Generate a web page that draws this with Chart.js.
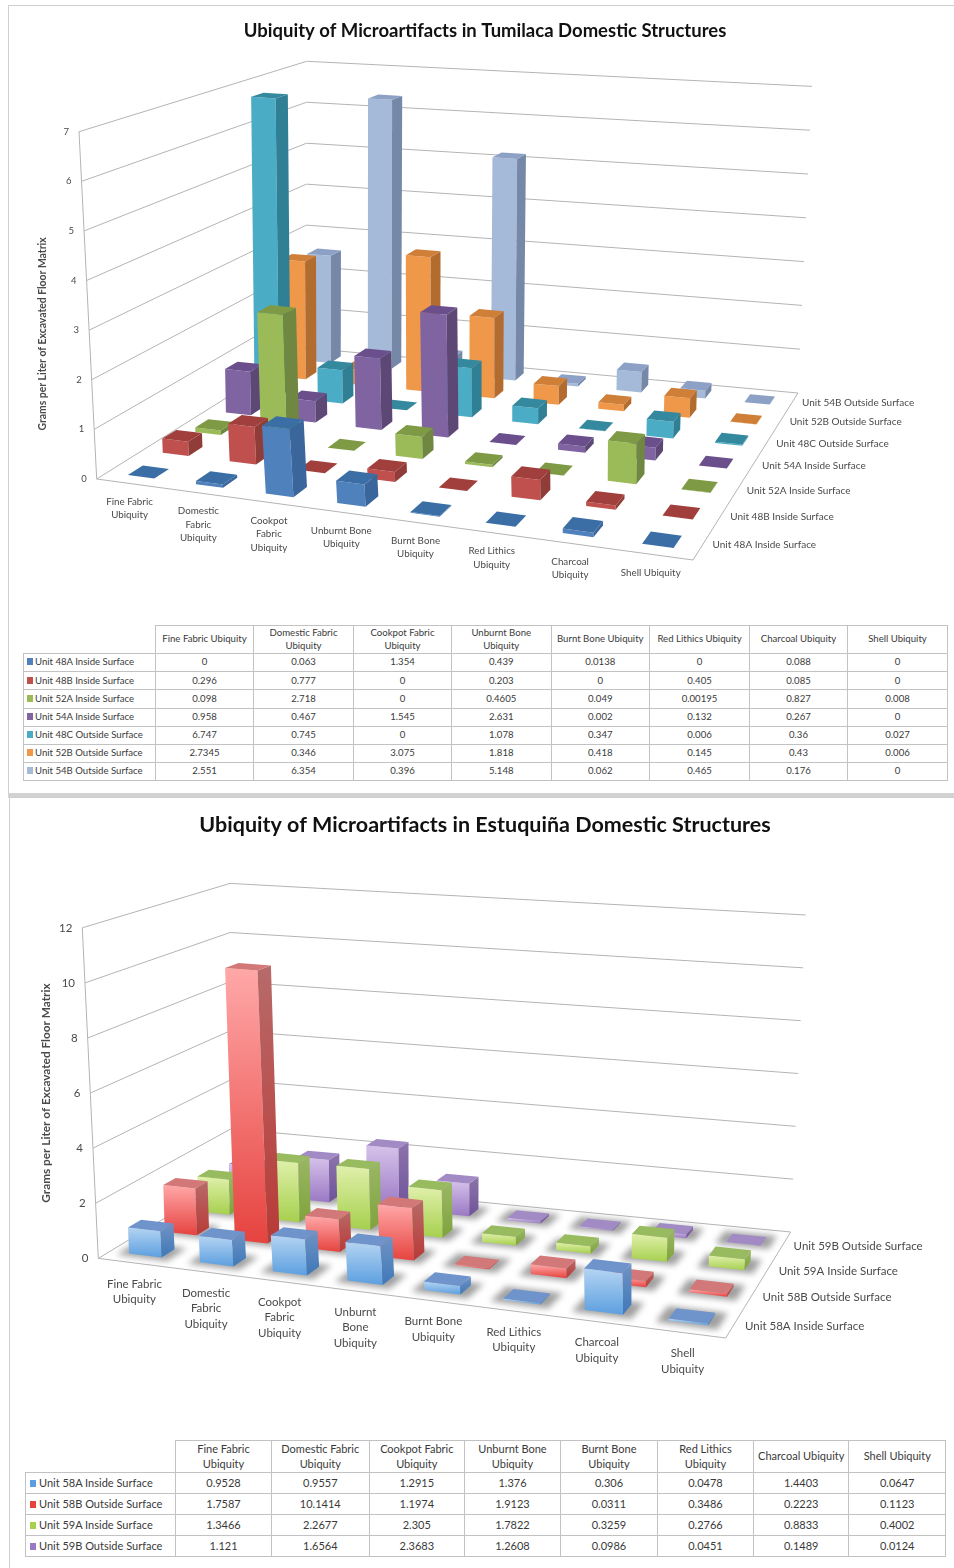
<!DOCTYPE html>
<html lang="en">
<head>
    <meta charset="UTF-8">
    <title>Ubiquity of Microartifacts</title>
    <style>
        body {
            margin: 0;
            width: 954px;
            height: 1568px;
            position: relative;
            overflow: hidden;
            background: #fff;
            font-family: Lato, sans-serif;
        }

        .panel {
            position: absolute;
            box-sizing: border-box;
            background: #fff;
            border: 1px solid #cfcfcf;
        }

        #panelTop { left: 8px; top: 5px; width: 960px; height: 789px; }
        #panelBottom { left: 9px; top: 797px; width: 960px; height: 800px; }
        #stripe { position: absolute; left: 8px; top: 793px; width: 946px; height: 5px; background: #d2d2d2; }

        canvas { position: absolute; left: 0; }
        #tumilacaChart { top: 0; }
        #estuquinaChart { top: 800px; }

        table {
            position: absolute;
            border-collapse: collapse;
            table-layout: fixed;
            color: #3a3a3a;
            text-align: center;
        }

        td, th {
            border: 1.5px solid #c2c2c2;
            padding: 0;
            font-weight: normal;
            white-space: pre-line;
            line-height: 1.3;
        }

        th.blank { border-top: none; border-left: none; }
        td.name { text-align: left; padding-left: 3px; white-space: nowrap; }
        .swatch { display: inline-block; width: 6px; height: 7px; margin-right: 2px; }

        #tumilacaTable { left: 23px; top: 625px; font-size: 9.6px; }
        #estuquinaTable { left: 25px; top: 1440px; font-size: 11px; }
        #estuquinaTable td.name { padding-left: 4px; }
        #estuquinaTable .swatch { margin-right: 3px; }
    </style>
    <script src="https://cdn.jsdelivr.net/npm/chart.js"></script>
</head>
<body>
    <div class="panel" id="panelTop"></div>
    <div id="stripe"></div>
    <div class="panel" id="panelBottom"></div>
    <canvas id="tumilacaChart" width="954" height="620"></canvas>
    <canvas id="estuquinaChart" width="954" height="625"></canvas>
    <table id="tumilacaTable"></table>
    <table id="estuquinaTable"></table>

    <script>
        // Tumilaca values
        const tumilacaCategories = [
            ['Fine Fabric', 'Ubiquity'], ['Domestic', 'Fabric', 'Ubiquity'], ['Cookpot', 'Fabric', 'Ubiquity'],
            ['Unburnt Bone', 'Ubiquity'], ['Burnt Bone', 'Ubiquity'], ['Red Lithics', 'Ubiquity'],
            ['Charcoal', 'Ubiquity'], ['Shell Ubiquity']
        ];
        const tumilacaHeaders = [
            'Fine Fabric Ubiquity', 'Domestic Fabric\nUbiquity', 'Cookpot Fabric\nUbiquity', 'Unburnt Bone\nUbiquity',
            'Burnt Bone Ubiquity', 'Red Lithics Ubiquity', 'Charcoal Ubiquity', 'Shell Ubiquity'
        ];
        const tumilacaUnits = [
            'Unit 48A Inside Surface', 'Unit 48B Inside Surface', 'Unit 52A Inside Surface', 'Unit 54A Inside Surface',
            'Unit 48C Outside Surface', 'Unit 52B Outside Surface', 'Unit 54B Outside Surface'
        ];
        const unit48A = [0, 0.063, 1.354, 0.439, 0.0138, 0, 0.088, 0];
        const unit48B = [0.296, 0.777, 0, 0.203, 0, 0.405, 0.085, 0];
        const unit52A = [0.098, 2.718, 0, 0.4605, 0.049, 0.00195, 0.827, 0.008];
        const unit54A = [0.958, 0.467, 1.545, 2.631, 0.002, 0.132, 0.267, 0];
        const unit48C = [6.747, 0.745, 0, 1.078, 0.347, 0.006, 0.36, 0.027];
        const unit52B = [2.7345, 0.346, 3.075, 1.818, 0.418, 0.145, 0.43, 0.006];
        const unit54B = [2.551, 6.354, 0.396, 5.148, 0.062, 0.465, 0.176, 0];
        const tumilacaTicks = { max: 7, step: 1 };

        // Estuquiña values
        const estuquinaCategories = [
            ['Fine Fabric', 'Ubiquity'], ['Domestic', 'Fabric', 'Ubiquity'], ['Cookpot', 'Fabric', 'Ubiquity'],
            ['Unburnt', 'Bone', 'Ubiquity'], ['Burnt Bone', 'Ubiquity'], ['Red Lithics', 'Ubiquity'],
            ['Charcoal', 'Ubiquity'], ['Shell', 'Ubiquity']
        ];
        const estuquinaHeaders = [
            'Fine Fabric\nUbiquity', 'Domestic Fabric\nUbiquity', 'Cookpot Fabric\nUbiquity', 'Unburnt Bone\nUbiquity',
            'Burnt Bone\nUbiquity', 'Red Lithics\nUbiquity', 'Charcoal Ubiquity', 'Shell Ubiquity'
        ];
        const estuquinaUnits = [
            'Unit 58A Inside Surface', 'Unit 58B Outside Surface', 'Unit 59A Inside Surface', 'Unit 59B Outside Surface'
        ];
        const unit58A = [0.9528, 0.9557, 1.2915, 1.376, 0.306, 0.0478, 1.4403, 0.0647];
        const unit58B = [1.7587, 10.1414, 1.1974, 1.9123, 0.0311, 0.3486, 0.2223, 0.1123];
        const unit59A = [1.3466, 2.2677, 2.305, 1.7822, 0.3259, 0.2766, 0.8833, 0.4002];
        const unit59B = [1.121, 1.6564, 2.3683, 1.2608, 0.0986, 0.0451, 0.1489, 0.0124];
        const estuquinaTicks = { max: 12, step: 2 };

        const axisTitle = 'Grams per Liter of Excavated Floor Matrix';

        // Face colours: [front, side, top], two-stop fronts get a vertical gradient
        const tumilacaColors = [
            { front: ['#4f81bd'], side: ['#3a669b'], top: '#3b6ea5' },
            { front: ['#c0504d'], side: ['#903c39'], top: '#a03f3c' },
            { front: ['#9bbb59'], side: ['#6f8740'], top: '#7e9a45' },
            { front: ['#8064a2'], side: ['#5c4775'], top: '#6a4f8c' },
            { front: ['#4bacc6'], side: ['#2f7f95'], top: '#35899f' },
            { front: ['#f0984a'], side: ['#b36c2f'], top: '#d07f38' },
            { front: ['#a5bad9'], side: ['#7588a8'], top: '#8ca1c5' }
        ];
        const estuquinaColors = [
            { front: ['#b4d4f2', '#5c9fe0'], side: ['#6f93c4', '#3f78b8'], top: '#6f93cb' },
            { front: ['#ffa8a8', '#e6433f'], side: ['#b86a6a', '#b83a36'], top: '#d27878' },
            { front: ['#e0f0aa', '#a6d04e'], side: ['#9ab765', '#7fa33c'], top: '#97bb5e' },
            { front: ['#d6c2ea', '#9a78c4'], side: ['#8c74ac', '#6f539a'], top: '#a28ac4' }
        ];

        // Unit square to quad: a projective map whose sideways spacing is eased toward even
        // steps, by ease[0] along the front edge and ease[1] along the back edge
        function makePlane(q, ease) {
            const [p0, p1, p2, p3] = q;
            const dx1 = p1[0] - p2[0], dx2 = p3[0] - p2[0], sx = p0[0] - p1[0] + p2[0] - p3[0];
            const dy1 = p1[1] - p2[1], dy2 = p3[1] - p2[1], sy = p0[1] - p1[1] + p2[1] - p3[1];
            const den = dx1 * dy2 - dx2 * dy1;
            const g = (sx * dy2 - dx2 * sy) / den;
            const h = (dx1 * sy - sx * dy1) / den;
            const a = p1[0] - p0[0] + g * p1[0], b = p3[0] - p0[0] + h * p3[0];
            const d = p1[1] - p0[1] + g * p1[1], e = p3[1] - p0[1] + h * p3[1];
            const bilinear = (u, v, i) =>
                (p0[i] * (1 - u) + p1[i] * u) * (1 - v) + (p3[i] * (1 - u) + p2[i] * u) * v;
            return (u, v) => {
                const w = g * u + h * v + 1;
                const k = ease[0] + (ease[1] - ease[0]) * v;
                const px = (a * u + b * v + p0[0]) / w, py = (d * u + e * v + p0[1]) / w;
                // keep the projective depth step when easing
                const s = v * (g * u + h + 1) / w;
                return [px + (bilinear(u, s, 0) - px) * k, py + (bilinear(u, s, 1) - py) * k];
            };
        }

        // Box corners go front-left, front-right, back-right, back-left
        const views = {
            tumilacaChart: {
                floor: makePlane([[96.7, 479], [693, 560], [798, 393], [306, 348]], [0.35, 0.75]),
                ceiling: makePlane([[79, 131.7], [704, 193], [812, 86.4], [306.7, 61.3]], [0.35, 0.75]),
                barWidth: 0.39, barDepth: 0.42, shadow: false,
                tickFont: '9.5px Lato', catFont: '9.8px Lato', unitFont: '10px Lato', titleFont: 'bold 10.4px Lato',
                catOffset: [-1, 18], catLine: 13.6, unitOffset: [10, 0], titleAt: [43, 334]
            },
            estuquinaChart: {
                floor: makePlane([[98.3, 458.4], [725.7, 538], [790.7, 432], [231, 378]], [0.35, 0.75]),
                ceiling: makePlane([[82.3, 127.8], [738, 186], [805.7, 115], [230, 83.4]], [0.35, 0.75]),
                barWidth: 0.46, barDepth: 0.36, shadow: true,
                tickFont: '11.5px Lato', catFont: '11.5px Lato', unitFont: '11.5px Lato', titleFont: 'bold 11.8px Lato',
                catOffset: [1, 21], catLine: 15.5, unitOffset: [10, 3], titleAt: [46, 293]
            }
        };

        function project(view, u, v, t) {
            const low = view.floor(u, v), high = view.ceiling(u, v);
            return [low[0] + (high[0] - low[0]) * t, low[1] + (high[1] - low[1]) * t];
        }

        const fracX = (scale, value) => (scale.getPixelForValue(value) - scale.left) / scale.width;
        const fracY = (scale, value) => (scale.bottom - scale.getPixelForValue(value)) / scale.height;

        function footprint(chart, datasetIndex, index, grow) {
            const view = views[chart.canvas.id];
            const { x, y, z } = chart.scales;
            const hu = view.barWidth / x.getLabels().length / 2 * grow;
            const hv = view.barDepth / z.getLabels().length / 2 * grow;
            return {
                u0: fracX(x, index) - hu, u1: fracX(x, index) + hu,
                v0: fracX(z, datasetIndex) - hv, v1: fracX(z, datasetIndex) + hv,
                t: fracY(y, chart.data.datasets[datasetIndex].data[index])
            };
        }

        function fillPoly(ctx, points, fill) {
            ctx.beginPath();
            points.forEach((p, i) => (i ? ctx.lineTo(p[0], p[1]) : ctx.moveTo(p[0], p[1])));
            ctx.closePath();
            ctx.fillStyle = fill;
            ctx.fill();
        }

        function faceFill(ctx, stops, yTop, yBottom) {
            if (stops.length === 1) return stops[0];
            const grad = ctx.createLinearGradient(0, yTop, 0, yBottom);
            grad.addColorStop(0, stops[0]);
            grad.addColorStop(1, stops[1]);
            return grad;
        }

        // Bar controller that paints each bar as a box standing on the floor
        class Box3dController extends Chart.BarController {
            draw() {
                const chart = this.chart;
                const view = views[chart.canvas.id];
                const ctx = chart.ctx;
                const colors = this.getDataset().faces;
                this.getDataset().data.forEach((value, index) => {
                    const f = footprint(chart, this.index, index, 1);
                    const p = (u, v, t) => project(view, u, v, t);
                    const a0 = p(f.u0, f.v0, 0), b0 = p(f.u1, f.v0, 0), c0 = p(f.u1, f.v1, 0);
                    const a1 = p(f.u0, f.v0, f.t), b1 = p(f.u1, f.v0, f.t), c1 = p(f.u1, f.v1, f.t), d1 = p(f.u0, f.v1, f.t);
                    if (f.t > 0) {
                        fillPoly(ctx, [a0, b0, b1, a1], faceFill(ctx, colors.front, Math.min(a1[1], b1[1]), Math.max(a0[1], b0[1])));
                        fillPoly(ctx, [b0, c0, c1, b1], faceFill(ctx, colors.side, Math.min(b1[1], c1[1]), Math.max(b0[1], c0[1])));
                    }
                    fillPoly(ctx, [a1, b1, c1, d1], colors.top);
                });
            }
        }
        Box3dController.id = 'box3d';
        Box3dController.defaults = Chart.BarController.defaults;
        Chart.register(Box3dController);

        const wallsPlugin = {
            id: 'walls',
            beforeDatasetsDraw(chart) {
                const view = views[chart.canvas.id];
                const ctx = chart.ctx;
                const stroke = pts => {
                    ctx.beginPath();
                    pts.forEach((p, i) => (i ? ctx.lineTo(p[0], p[1]) : ctx.moveTo(p[0], p[1])));
                    ctx.stroke();
                };
                ctx.save();
                ctx.lineWidth = 1;
                ctx.strokeStyle = '#b4b4b4';
                chart.scales.y.ticks.forEach(tick => {
                    const t = fracY(chart.scales.y, tick.value);
                    stroke([project(view, 0, 0, t), project(view, 0, 1, t), project(view, 1, 1, t)]);
                });
                stroke([project(view, 0, 0, 1), project(view, 0, 0, 0), project(view, 1, 0, 0), project(view, 1, 1, 0)]);
                ctx.restore();

                if (view.shadow) {
                    ctx.save();
                    ctx.filter = 'blur(3px)';
                    chart.data.datasets.forEach((ds, d) => {
                        ds.data.forEach((value, i) => {
                            const f = footprint(chart, d, i, 1.55);
                            fillPoly(ctx, [project(view, f.u0, f.v0, 0), project(view, f.u1, f.v0, 0),
                                project(view, f.u1, f.v1, 0), project(view, f.u0, f.v1, 0)], 'rgba(120,120,120,0.7)');
                        });
                    });
                    ctx.restore();
                }
            },
            afterDatasetsDraw(chart) {
                const view = views[chart.canvas.id];
                const ctx = chart.ctx;
                const { x, y, z } = chart.scales;
                ctx.save();
                ctx.fillStyle = '#4a4a4a';
                ctx.textBaseline = 'middle';

                ctx.font = view.tickFont;
                ctx.textAlign = 'right';
                y.ticks.forEach(tick => {
                    const p = project(view, 0, 0, fracY(y, tick.value));
                    ctx.fillText(String(tick.value), p[0] - 10, p[1]);
                });

                ctx.font = view.catFont;
                ctx.textAlign = 'center';
                x.getLabels().forEach((lines, i) => {
                    const p = project(view, fracX(x, i), 0, 0);
                    lines.forEach((line, n) => {
                        ctx.fillText(line, p[0] + view.catOffset[0], p[1] + view.catOffset[1] + n * view.catLine);
                    });
                });

                ctx.font = view.unitFont;
                ctx.textAlign = 'left';
                z.getLabels().forEach((label, i) => {
                    const p = project(view, 1, fracX(z, i), 0);
                    ctx.fillText(label, p[0] + view.unitOffset[0], p[1] + view.unitOffset[1]);
                });

                ctx.font = view.titleFont;
                ctx.textAlign = 'center';
                ctx.translate(view.titleAt[0], view.titleAt[1]);
                ctx.rotate(-Math.PI / 2);
                ctx.fillText(axisTitle, 0, 0);
                ctx.restore();
            }
        };

        function drawChart(id, title, titleSize, titleTop, categories, units, series, faces, ticks) {
            new Chart(document.getElementById(id), {
                type: 'box3d',
                data: {
                    labels: categories,
                    datasets: series.map((data, i) => ({ label: units[i], data: data, faces: faces[i], clip: false }))
                },
                options: {
                    responsive: false,
                    animation: false,
                    layout: { padding: { left: 16 } },
                    scales: {
                        x: { type: 'category', offset: true, display: false },
                        y: { type: 'linear', min: 0, max: ticks.max, ticks: { stepSize: ticks.step }, display: false },
                        z: { type: 'category', axis: 'x', position: 'bottom', labels: units, offset: true, display: false }
                    },
                    plugins: {
                        legend: { display: false },
                        tooltip: { enabled: false },
                        title: {
                            display: true,
                            text: title,
                            fullSize: false,
                            color: '#111',
                            font: { family: 'Lato', weight: 'bold', size: titleSize },
                            padding: { top: titleTop, bottom: 4 }
                        }
                    }
                },
                plugins: [wallsPlugin]
            });
        }

        function buildTable(id, headers, units, series, faces, widths, headHeight, rowHeight) {
            const table = document.getElementById(id);
            table.style.width = widths.reduce((a, b) => a + b, 0) + 'px';
            const colgroup = document.createElement('colgroup');
            widths.forEach(w => {
                const col = document.createElement('col');
                col.style.width = w + 'px';
                colgroup.appendChild(col);
            });
            table.appendChild(colgroup);

            const head = table.insertRow();
            head.style.height = headHeight + 'px';
            const blank = document.createElement('th');
            blank.className = 'blank';
            head.appendChild(blank);
            headers.forEach(text => {
                const th = document.createElement('th');
                th.textContent = text;
                head.appendChild(th);
            });

            units.forEach((unit, r) => {
                const row = table.insertRow();
                row.style.height = rowHeight + 'px';
                const name = row.insertCell();
                name.className = 'name';
                const swatch = document.createElement('span');
                swatch.className = 'swatch';
                swatch.style.background = faces[r].front[faces[r].front.length - 1];
                name.appendChild(swatch);
                name.appendChild(document.createTextNode(unit));
                series[r].forEach(value => {
                    row.insertCell().textContent = String(value);
                });
            });
        }

        const tumilacaSeries = [unit48A, unit48B, unit52A, unit54A, unit48C, unit52B, unit54B];
        const estuquinaSeries = [unit58A, unit58B, unit59A, unit59B];

        drawChart('tumilacaChart', 'Ubiquity of Microartifacts in Tumilaca Domestic Structures', 18.5, 20,
            tumilacaCategories, tumilacaUnits, tumilacaSeries, tumilacaColors, tumilacaTicks);
        drawChart('estuquinaChart', 'Ubiquity of Microartifacts in Estuquiña Domestic Structures', 21.5, 12,
            estuquinaCategories, estuquinaUnits, estuquinaSeries, estuquinaColors, estuquinaTicks);

        buildTable('tumilacaTable', tumilacaHeaders, tumilacaUnits, tumilacaSeries, tumilacaColors,
            [132, 98, 100, 98, 99.5, 98.5, 100, 98, 100], 28, 18.2);
        buildTable('estuquinaTable', estuquinaHeaders, estuquinaUnits, estuquinaSeries, estuquinaColors,
            [150, 96, 97.6, 95.4, 96, 97, 96, 95.5, 96.5], 32, 21);
    </script>
</body>
</html>
